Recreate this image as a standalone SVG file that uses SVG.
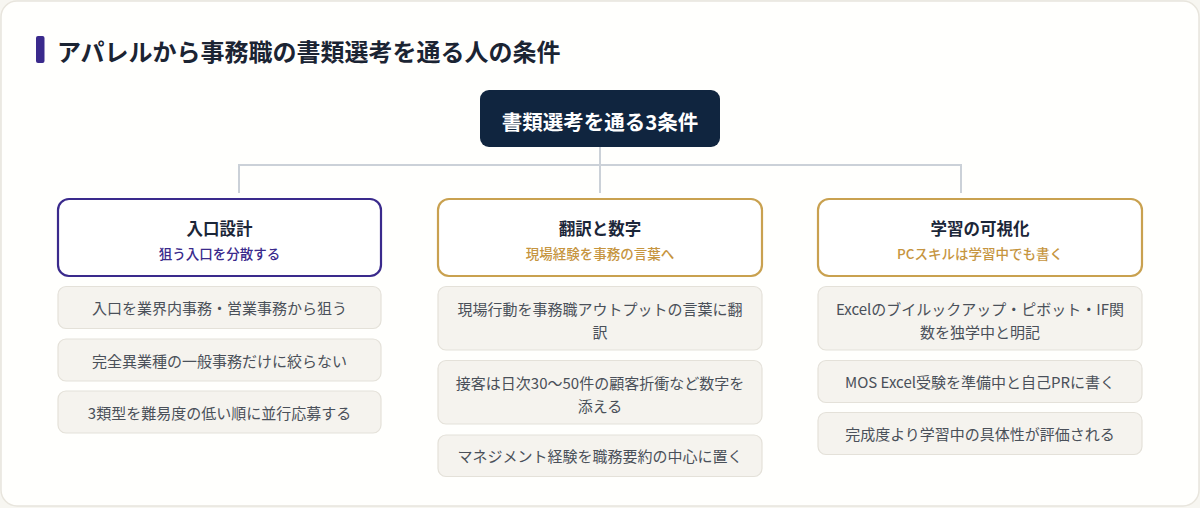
<svg xmlns="http://www.w3.org/2000/svg" width="1200" height="508" viewBox="0 0 1200 508">
<style>
text{font-family:"Noto Sans CJK JP","Noto Sans",sans-serif;dominant-baseline:central;text-anchor:middle}
.title{font-size:24px;font-weight:700;fill:#1b2433;text-anchor:start}
.root{fill:#10253f}
.roottxt{font-size:20.5px;font-weight:700;fill:#ffffff}
.col{fill:#ffffff;stroke-width:2.2}
.purple{stroke:#3a2a8c}
.gold{stroke:#c9a14f}
.ct{font-size:16.5px;font-weight:700;fill:#1b2638}
.cs{font-size:13.5px;font-weight:500}
.csp{fill:#3a2a8c}
.csg{fill:#c6953f}
.item{fill:#f5f3ee;stroke:#e4e1d9;stroke-width:1.2}
.it{font-size:15px;fill:#4a5059}
.conn{fill:none;stroke:#cbd1d8;stroke-width:2}
</style>
<rect x="0" y="0" width="1200" height="508" fill="#f7f6f1"/>
<rect x="1" y="1" width="1198" height="505" rx="16" fill="#fffffd" stroke="#e8e5dd" stroke-width="1.5"/>
<g id="header">
<rect x="36" y="36" width="8.5" height="27" rx="2" fill="#3a2a8c"/>
<text class="title" x="57" y="50">アパレルから事務職の書類選考を通る人の条件</text>
</g>
<g id="connectors">
<path class="conn" d="M600 147 V193 M239 193 V165 H961 V193"/>
</g>
<g id="root">
<rect class="root" x="480" y="90" width="240" height="57" rx="9"/>
<text class="roottxt" x="600" y="121">書類選考を通る3条件</text>
</g>
<g id="col1">
<rect class="col purple" x="58" y="199" width="323" height="77" rx="11"/>
<text class="ct" x="219.5" y="228">入口設計</text>
<text class="cs csp" x="219.5" y="253">狙う入口を分散する</text>
</g>
<g id="col1-item1">
<rect class="item" x="58" y="286.5" width="323" height="42" rx="8"/>
<text class="it" x="219.5" y="307.5">入口を業界内事務・営業事務から狙う</text>
</g>
<g id="col1-item2">
<rect class="item" x="58" y="339" width="323" height="42" rx="8"/>
<text class="it" x="219.5" y="360">完全異業種の一般事務だけに絞らない</text>
</g>
<g id="col1-item3">
<rect class="item" x="58" y="391" width="323" height="42" rx="8"/>
<text class="it" x="219.5" y="412">3類型を難易度の低い順に並行応募する</text>
</g>
<g id="col2">
<rect class="col gold" x="438" y="199" width="324" height="77" rx="11"/>
<text class="ct" x="600" y="228">翻訳と数字</text>
<text class="cs csg" x="600" y="253">現場経験を事務の言葉へ</text>
</g>
<g id="col2-item1">
<rect class="item" x="438" y="286.5" width="324" height="63.5" rx="8"/>
<text class="it" x="600" y="308">現場行動を事務職アウトプットの言葉に翻</text>
<text class="it" x="600" y="331">訳</text>
</g>
<g id="col2-item2">
<rect class="item" x="438" y="360.5" width="324" height="63.5" rx="8"/>
<text class="it" x="600" y="382.5">接客は日次30〜50件の顧客折衝など数字を</text>
<text class="it" x="600" y="405">添える</text>
</g>
<g id="col2-item3">
<rect class="item" x="438" y="435" width="324" height="41.5" rx="8"/>
<text class="it" x="600" y="455.7">マネジメント経験を職務要約の中心に置く</text>
</g>
<g id="col3">
<rect class="col gold" x="818" y="199" width="324" height="77" rx="11"/>
<text class="ct" x="980" y="228">学習の可視化</text>
<text class="cs csg" x="980" y="253">PCスキルは学習中でも書く</text>
</g>
<g id="col3-item1">
<rect class="item" x="818" y="286.5" width="324" height="63.5" rx="8"/>
<text class="it" x="980" y="308">Excelのブイルックアップ・ピボット・IF関</text>
<text class="it" x="980" y="331">数を独学中と明記</text>
</g>
<g id="col3-item2">
<rect class="item" x="818" y="360.5" width="324" height="42" rx="8"/>
<text class="it" x="980" y="381.5">MOS Excel受験を準備中と自己PRに書く</text>
</g>
<g id="col3-item3">
<rect class="item" x="818" y="412.5" width="324" height="42" rx="8"/>
<text class="it" x="980" y="433.5">完成度より学習中の具体性が評価される</text>
</g>
</svg>
